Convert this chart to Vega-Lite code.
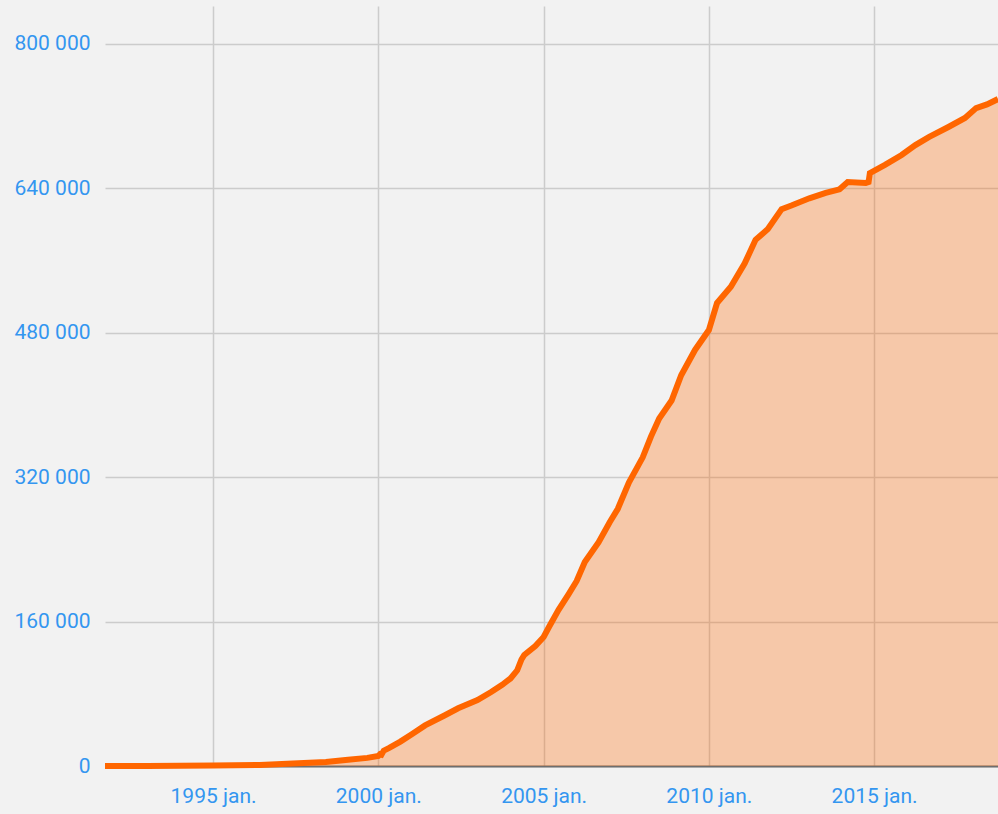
{
  "$schema": "https://vega.github.io/schema/vega-lite/v6.json",
  "width": 893,
  "height": 760,
  "autosize": {"type": "none"},
  "padding": {"left": 105, "top": 6, "right": 0, "bottom": 48},
  "background": "#f2f2f2",
  "config": {
    "view": {"stroke": null, "fill": "#f2f2f2"},
    "axis": {
      "labelFont": "Roboto",
      "labelFontSize": 21,
      "labelColor": "#3496f0",
      "gridColor": "#cccccc",
      "gridWidth": 1.5,
      "ticks": false,
      "title": null
    }
  },
  "data": {
    "values": [
      {"date": "1991-09-25", "users": 0},
      {"date": "1993-01-01", "users": 0},
      {"date": "1995-01-01", "users": 500},
      {"date": "1996-06-01", "users": 1200},
      {"date": "1997-08-01", "users": 3000},
      {"date": "1998-06-01", "users": 4500},
      {"date": "1999-02-01", "users": 7000},
      {"date": "1999-09-01", "users": 9000},
      {"date": "2000-01-01", "users": 11000},
      {"date": "2000-01-20", "users": 13000},
      {"date": "2000-02-05", "users": 12500},
      {"date": "2000-03-01", "users": 17000},
      {"date": "2000-05-01", "users": 20000},
      {"date": "2000-09-01", "users": 27000},
      {"date": "2001-01-01", "users": 35000},
      {"date": "2001-06-01", "users": 45000},
      {"date": "2002-01-01", "users": 56000},
      {"date": "2002-06-01", "users": 64000},
      {"date": "2003-01-01", "users": 73000},
      {"date": "2003-06-01", "users": 82000},
      {"date": "2003-10-01", "users": 90000},
      {"date": "2004-01-01", "users": 97000},
      {"date": "2004-03-15", "users": 106000},
      {"date": "2004-05-01", "users": 118000},
      {"date": "2004-06-01", "users": 123000},
      {"date": "2004-10-01", "users": 133000},
      {"date": "2005-01-01", "users": 143000},
      {"date": "2005-03-01", "users": 154000},
      {"date": "2005-06-15", "users": 173000},
      {"date": "2005-10-01", "users": 190000},
      {"date": "2006-01-01", "users": 205000},
      {"date": "2006-04-01", "users": 226000},
      {"date": "2006-09-01", "users": 248000},
      {"date": "2007-01-01", "users": 270000},
      {"date": "2007-04-01", "users": 285000},
      {"date": "2007-08-01", "users": 314000},
      {"date": "2008-01-01", "users": 342000},
      {"date": "2008-04-01", "users": 365000},
      {"date": "2008-07-01", "users": 385000},
      {"date": "2008-11-15", "users": 405000},
      {"date": "2009-03-01", "users": 433000},
      {"date": "2009-08-01", "users": 461000},
      {"date": "2010-01-01", "users": 483000},
      {"date": "2010-04-01", "users": 513000},
      {"date": "2010-09-01", "users": 531000},
      {"date": "2011-02-01", "users": 557000},
      {"date": "2011-06-01", "users": 583000},
      {"date": "2011-10-15", "users": 595000},
      {"date": "2012-03-15", "users": 617000},
      {"date": "2012-07-01", "users": 621000},
      {"date": "2013-01-15", "users": 629000},
      {"date": "2013-07-15", "users": 635000},
      {"date": "2013-12-15", "users": 639000},
      {"date": "2014-03-15", "users": 647000},
      {"date": "2014-10-01", "users": 646000},
      {"date": "2014-11-01", "users": 647000},
      {"date": "2014-11-15", "users": 657000},
      {"date": "2015-05-01", "users": 666000},
      {"date": "2015-11-01", "users": 677000},
      {"date": "2016-04-01", "users": 688000},
      {"date": "2016-09-01", "users": 697000},
      {"date": "2017-04-01", "users": 708000},
      {"date": "2017-10-01", "users": 718000},
      {"date": "2018-02-01", "users": 729000},
      {"date": "2018-06-01", "users": 733000},
      {"date": "2018-10-01", "users": 739000}
    ]
  },
  "encoding": {
    "x": {
      "field": "date",
      "type": "temporal",
      "scale": {
        "type": "utc",
        "domain": [
          {"year": 1991, "month": 9, "date": 25, "utc": true},
          {"year": 2018, "month": 10, "date": 1, "utc": true}
        ]
      },
      "axis": {
        "values": [
          {"year": 1995, "month": 1, "date": 1, "utc": true},
          {"year": 2000, "month": 1, "date": 1, "utc": true},
          {"year": 2005, "month": 1, "date": 1, "utc": true},
          {"year": 2010, "month": 1, "date": 1, "utc": true},
          {"year": 2015, "month": 1, "date": 1, "utc": true}
        ],
        "labelExpr": "utcFormat(datum.value, '%Y') + ' jan.'",
        "domain": true,
        "domainColor": "#6e6e6e",
        "domainWidth": 2,
        "labelPadding": 19,
        "labelFlush": false
      }
    },
    "y": {
      "field": "users",
      "type": "quantitative",
      "scale": {"domain": [0, 842100], "nice": false},
      "axis": {
        "values": [0, 160000, 320000, 480000, 640000, 800000],
        "labelExpr": "replace(format(datum.value, ','), ',', ' ')",
        "domain": false,
        "labelPadding": 15
      }
    }
  },
  "layer": [
    {"mark": {"type": "area", "color": "#ff6600", "opacity": 0.3}},
    {"mark": {"type": "line", "color": "#ff6600", "strokeWidth": 6}}
  ]
}
